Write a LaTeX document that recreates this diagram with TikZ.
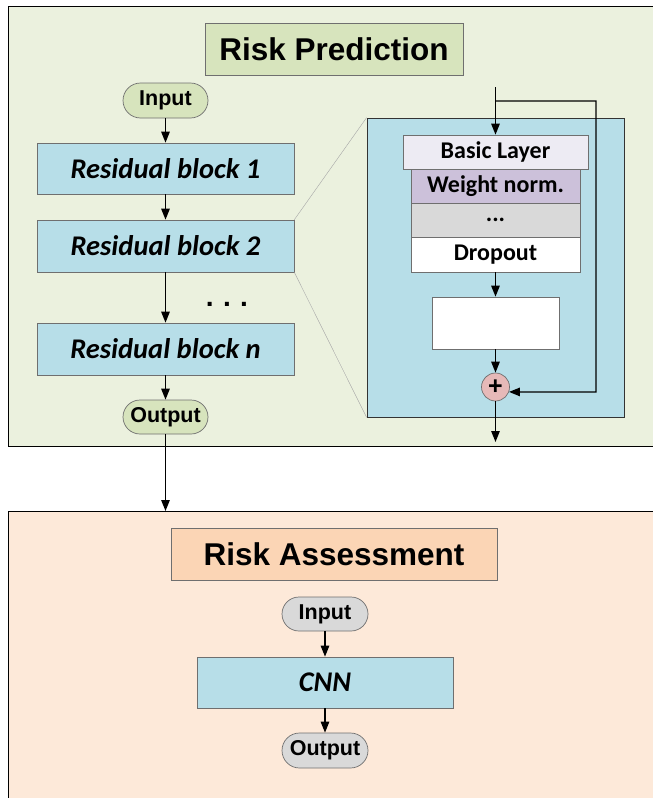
\documentclass[tikz,border=0pt]{standalone}
\usepackage{fontspec}
\setmainfont{Carlito}
\newfontfamily\arialf{Liberation Sans}
\usetikzlibrary{arrows.meta,shapes.misc}
\definecolor{predbg}{HTML}{EBF1DE}
\definecolor{predtitle}{HTML}{D7E4BD}
\definecolor{assbg}{HTML}{FDE9D9}
\definecolor{asstitle}{HTML}{FBD5B5}
\definecolor{blockblue}{HTML}{B7DEE8}
\definecolor{pillgray}{HTML}{D9D9D9}
\definecolor{basiccol}{HTML}{EDEBF3}
\definecolor{weightcol}{HTML}{CCC1DA}
\definecolor{pluscol}{HTML}{E6B9B8}
\definecolor{edgegray}{HTML}{6F6F6F}
\tikzset{
  panel/.style={draw=black, line width=0.9pt, inner sep=0pt},
  titlebox/.style={draw=edgegray, line width=0.7pt, inner sep=0pt, font=\arialf\bfseries\fontsize{31.5}{31.5}\selectfont},
  pill/.style={rounded rectangle, draw=edgegray, line width=0.7pt, inner sep=0pt, font=\arialf\bfseries\fontsize{21.5}{21.5}\selectfont},
  block/.style={draw=edgegray, line width=0.7pt, fill=blockblue, inner sep=0pt, font=\bfseries\itshape\fontsize{28.5}{28.5}\selectfont},
  layer/.style={draw=edgegray, line width=0.7pt, inner sep=0pt, font=\bfseries\fontsize{24}{24}\selectfont},
  arr/.style={-{Triangle[length=11pt,width=8.5pt]}, line width=1.3pt},
  zoomline/.style={draw=gray!70, line width=0.4pt}
}
\begin{document}
\begin{tikzpicture}[x=1pt,y=-1pt]
\clip (0,0) rectangle (653,798);
\fill[white] (0,0) rectangle (653,798);
% panels
\node[panel, fill=predbg, anchor=north west, minimum width=670pt, minimum height=440pt] (pp) at (8,6) {};
\node[panel, fill=assbg, anchor=north west, minimum width=670pt, minimum height=320pt] (ap) at (8,511) {};
% Risk Prediction
\node[titlebox, fill=predtitle, minimum width=258pt, minimum height=52pt] (pt) at (334,49) {Risk Prediction};
\node[pill, fill=predtitle, minimum width=85pt, minimum height=35pt] (pin) at (165.5,100.5) {Input};
\node[block, minimum width=257pt, minimum height=51pt] (rb1) at (165.5,168.5) {Residual block 1};
\node[block, minimum width=257pt, minimum height=52pt] (rb2) at (165.5,246) {Residual block 2};
\node[font=\arialf\bfseries\fontsize{28}{28}\selectfont] (dots) at (227,304) {.\,\,.\,\,.};
\node[block, minimum width=257pt, minimum height=52pt] (rbn) at (165.5,349) {Residual block n};
\node[pill, fill=predtitle, minimum width=85pt, minimum height=34pt] (pout) at (165.5,417) {Output};
% inner detail
\node[draw=black!80, line width=0.8pt, fill=blockblue, minimum width=257pt, minimum height=299pt, inner sep=0pt] (inner) at (495.5,267.5) {};
\draw[zoomline] (rb2.north east) -- (inner.north west);
\draw[zoomline] (rb2.south east) -- (inner.south west);
\node[layer, fill=basiccol, minimum width=185pt, minimum height=34pt] (basic) at (495.5,152) {Basic Layer};
\node[layer, fill=weightcol, minimum width=169pt, minimum height=34pt] (weight) at (495.5,186) {Weight norm.};
\node[layer, fill=pillgray, minimum width=169pt, minimum height=34pt] (ell) at (495.5,220) {...};
\node[layer, fill=white, minimum width=169pt, minimum height=35pt] (drop) at (495.5,254.5) {Dropout};
\node[draw=edgegray, line width=0.7pt, fill=white, minimum width=127pt, minimum height=52pt, inner sep=0pt] (wbox) at (495.5,323) {};
\node[circle, draw=edgegray, line width=0.7pt, fill=pluscol, minimum size=28pt, inner sep=0pt, font=\arialf\bfseries\fontsize{25}{25}\selectfont] (plus) at (495.5,387) {+};
\coordinate (topin) at (495.5,87);
\coordinate (branch) at (495.5,101);
\coordinate (loopr) at (596,101);
\coordinate (loopb) at (596,392);
\coordinate (innerout) at (495.5,442);
\draw[arr] (topin) -- (basic.north);
\draw[arr] (branch) -- (loopr) -- (loopb) -- (plus.-20);
\draw[arr] (drop.south) -- (wbox.north);
\draw[arr] (wbox.south) -- (plus.north);
\draw[arr] (plus.south) -- (innerout);
% left column arrows
\draw[arr] (pin.south) -- (rb1.north);
\draw[arr] (rb1.south) -- (rb2.north);
\draw[arr] (rb2.south) -- (rbn.north);
\draw[arr] (rbn.south) -- (pout.north);
\draw[arr] (pout.south) -- (pout.south |- ap.north);
% Risk Assessment
\node[titlebox, fill=asstitle, minimum width=326pt, minimum height=52pt] (at) at (334,554) {Risk Assessment};
\node[pill, fill=pillgray, minimum width=86pt, minimum height=34pt] (ain) at (325,614) {Input};
\node[block, minimum width=256pt, minimum height=51pt] (cnn) at (325,682.5) {CNN};
\node[pill, fill=pillgray, minimum width=86pt, minimum height=35pt] (aout) at (325,750.5) {Output};
\draw[arr] (ain.south) -- (cnn.north);
\draw[arr] (cnn.south) -- (aout.north);
\end{tikzpicture}
\end{document}
